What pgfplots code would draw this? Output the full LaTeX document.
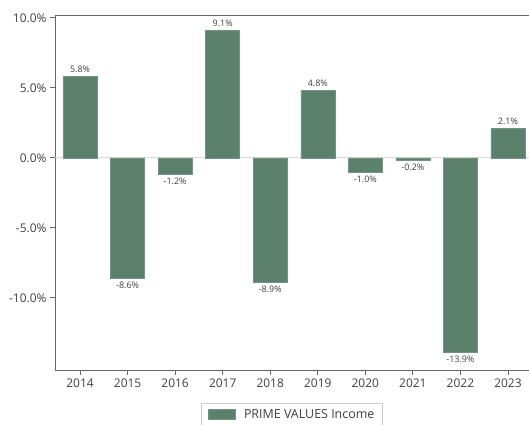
\documentclass[border=0pt]{standalone}
\usepackage{pgfplots}
\pgfplotsset{compat=1.18}
\usepackage{fontspec}
\setmainfont{Open Sans}
\definecolor{bargreen}{RGB}{91,128,108}
\definecolor{txt}{RGB}{64,64,64}
\begin{document}
\begin{tikzpicture}
\begin{axis}[
	name=ax,
	at={(0,0)}, anchor=south west,
	scale only axis,
	width=474bp, height=355bp,
	xmin=-0.527, xmax=9.443,
	ymin=-15.15, ymax=10.2,
	axis x line*=box,
	axis y line*=left,
	axis line style={draw=black!60, line width=0.9pt},
	ybar, bar width=34bp,
	xtick={0,...,9},
	xticklabels={2014,2015,2016,2017,2018,2019,2020,2021,2022,2023},
	xtick pos=bottom,
	ytick={-10,-5,0,5,10},
	yticklabel={\pgfmathprintnumber[fixed,fixed zerofill,precision=1]{\tick}\%},
	tick align=outside,
	major tick length=5bp,
	tick style={draw=black!60, line width=0.8pt},
	ticklabel style={font=\fontsize{12}{14}\selectfont, text=txt},
	/pgf/number format/assume math mode=true,
	extra y ticks={0},
	extra y tick labels={},
	extra y tick style={grid=major, major grid style={draw=black!15, line width=0.8pt}, major tick length=0pt},
	nodes near coords={\pgfmathprintnumber[fixed,fixed zerofill,precision=1]{\pgfplotspointmeta}\%},
	nodes near coords align={vertical},
	every node near coord/.append style={font=\fontsize{9}{10}\selectfont, text=txt, inner sep=3.5bp},
	legend style={at={(0.5,-0.093)}, anchor=north, draw=black!20, font=\fontsize{12.5}{14}\selectfont, text=txt, inner xsep=6bp, inner ysep=4bp},
	legend image code/.code={\fill[#1] (0bp,-5bp) rectangle (27bp,5bp); \path (34bp,0bp);},
]
\addplot[fill=bargreen, draw=bargreen!85!white] coordinates {
	(0,5.8) (1,-8.6) (2,-1.2) (3,9.1) (4,-8.9)
	(5,4.8) (6,-1.0) (7,-0.2) (8,-13.9) (9,2.1)};
\legend{PRIME VALUES Income}
\end{axis}
\pgfresetboundingbox
\useasboundingbox (-55bp,-55bp) rectangle (474bp,370bp);
\end{tikzpicture}
\end{document}
